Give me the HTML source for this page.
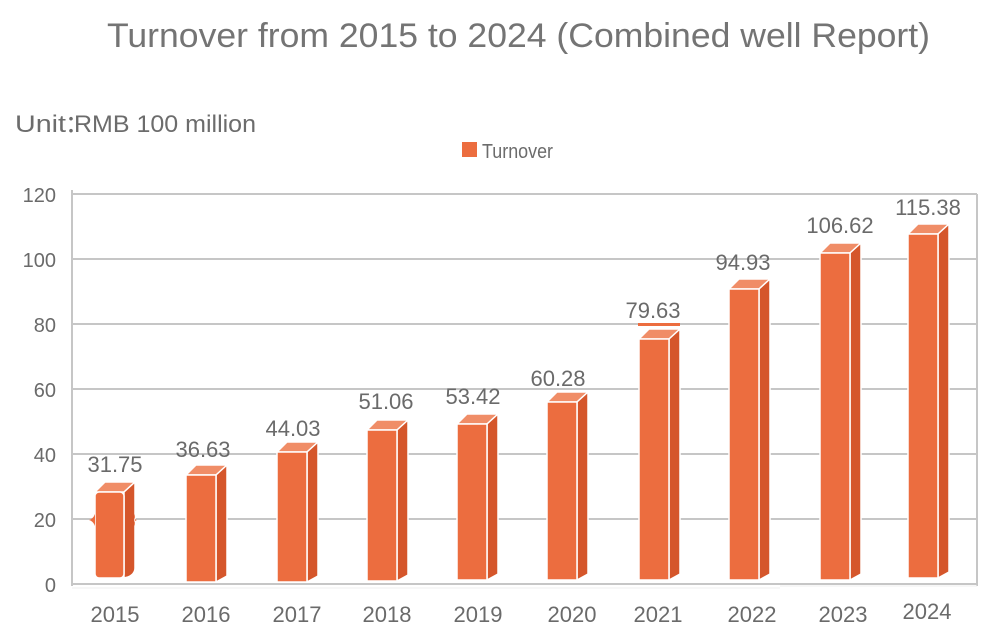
<!DOCTYPE html>
<html>
<head>
<meta charset="utf-8">
<style>
html,body{margin:0;padding:0;background:#fff;}
svg{display:block;}
text{font-family:"Liberation Sans",sans-serif;}
</style>
</head>
<body>
<svg width="1000" height="640" viewBox="0 0 1000 640" xmlns="http://www.w3.org/2000/svg">
<rect width="1000" height="640" fill="#ffffff"/>
<!-- Title -->
<text x="107" y="47" font-size="34" fill="#747474" textLength="823" lengthAdjust="spacingAndGlyphs">Turnover from 2015 to 2024 (Combined well Report)</text>
<!-- Unit -->
<text x="15" y="132" font-size="24" fill="#6c6c6c" textLength="51" lengthAdjust="spacingAndGlyphs">Unit</text>
<text x="65" y="132" font-size="24" fill="#6c6c6c" font-family="'Liberation Sans','Noto Sans CJK SC',sans-serif">：</text>
<text x="74" y="132" font-size="24" fill="#6c6c6c" textLength="182" lengthAdjust="spacingAndGlyphs">RMB 100 million</text>
<!-- Legend -->
<rect x="462" y="142" width="15" height="15" fill="#EC6D3F"/>
<text x="482" y="158" font-size="20" fill="#6c6c6c" textLength="71" lengthAdjust="spacingAndGlyphs">Turnover</text>

<!-- Grid -->
<g stroke="#c6c6c6" stroke-width="2" fill="none">
<line x1="72" y1="194" x2="977" y2="194"/>
<line x1="72" y1="259" x2="977" y2="259"/>
<line x1="72" y1="324" x2="977" y2="324"/>
<line x1="72" y1="389" x2="977" y2="389"/>
<line x1="72" y1="454" x2="977" y2="454"/>
<line x1="72" y1="519" x2="977" y2="519"/>
<line x1="72" y1="584" x2="977" y2="584"/>
<line x1="72" y1="190" x2="72" y2="586"/>
<line x1="977" y1="194" x2="977" y2="586"/>
</g>
<g stroke="#efefef" stroke-width="1">
<line x1="72" y1="588" x2="780" y2="588"/>
<line x1="780" y1="586" x2="977" y2="586"/>
</g>

<!-- Y labels -->
<g font-size="20" fill="#6a6a6a" text-anchor="end">
<text x="56" y="202">120</text>
<text x="56" y="267">100</text>
<text x="56" y="332">80</text>
<text x="56" y="397">60</text>
<text x="56" y="462">40</text>
<text x="56" y="527">20</text>
<text x="56" y="592">0</text>
</g>

<!-- Bars -->
<g stroke="#ffffff" stroke-width="1.5" stroke-linejoin="round">
<!-- 2015 (rounded) -->
<path d="M95,492 L105,482 L135,482 L124,492 Z" fill="#F08D67"/>
<path d="M124,492 L135,482 L135,568 Q135,574 128,577 L124,578 Z" fill="#D5562B"/>
<rect x="95" y="492" width="29" height="86" rx="4" fill="#EC6D3F"/>
<!-- 2016 -->
<path d="M186,475 L196,465 L227,465 L216,475 Z" fill="#F08D67"/>
<path d="M216,475 L227,465 L227,576 L216,582 Z" fill="#D5562B"/>
<rect x="186" y="475" width="30" height="107" fill="#EC6D3F"/>
<!-- 2017 -->
<path d="M277,452 L287,442 L318,442 L307,452 Z" fill="#F08D67"/>
<path d="M307,452 L318,442 L318,576 L307,582 Z" fill="#D5562B"/>
<rect x="277" y="452" width="30" height="130" fill="#EC6D3F"/>
<!-- 2018 -->
<path d="M367,430 L377,420 L408,420 L397,430 Z" fill="#F08D67"/>
<path d="M397,430 L408,420 L408,575 L397,581 Z" fill="#D5562B"/>
<rect x="367" y="430" width="30" height="151" fill="#EC6D3F"/>
<!-- 2019 -->
<path d="M457,424 L467,414 L498,414 L487,424 Z" fill="#F08D67"/>
<path d="M487,424 L498,414 L498,574 L487,580 Z" fill="#D5562B"/>
<rect x="457" y="424" width="30" height="156" fill="#EC6D3F"/>
<!-- 2020 -->
<path d="M547,402 L557,392 L588,392 L577,402 Z" fill="#F08D67"/>
<path d="M577,402 L588,392 L588,574 L577,580 Z" fill="#D5562B"/>
<rect x="547" y="402" width="30" height="178" fill="#EC6D3F"/>
<!-- 2021 -->
<path d="M639,339 L649,329 L680,329 L669,339 Z" fill="#F08D67"/>
<path d="M669,339 L680,329 L680,574 L669,580 Z" fill="#D5562B"/>
<rect x="639" y="339" width="30" height="241" fill="#EC6D3F"/>
<!-- 2022 -->
<path d="M729,289 L739,279 L770,279 L759,289 Z" fill="#F08D67"/>
<path d="M759,289 L770,279 L770,574 L759,580 Z" fill="#D5562B"/>
<rect x="729" y="289" width="30" height="291" fill="#EC6D3F"/>
<!-- 2023 -->
<path d="M820,253 L830,243 L861,243 L850,253 Z" fill="#F08D67"/>
<path d="M850,253 L861,243 L861,574 L850,580 Z" fill="#D5562B"/>
<rect x="820" y="253" width="30" height="327" fill="#EC6D3F"/>
<!-- 2024 -->
<path d="M908,234 L918,224 L949,224 L938,234 Z" fill="#F08D67"/>
<path d="M938,234 L949,224 L949,572 L938,578 Z" fill="#D5562B"/>
<rect x="908" y="234" width="30" height="344" fill="#EC6D3F"/>
</g>
<!-- small artifacts -->
<rect x="638" y="323" width="42" height="3" fill="#EC6D3F"/>
<path d="M89,520 Q93,519 95,514 L95,526 Q93,521 89,520 Z" fill="#EC6D3F"/>
<path d="M137,520 Q133,519 135,514 L135,526 Q133,521 137,520 Z" fill="#EC6D3F"/>

<!-- Value labels -->
<g font-size="22" fill="#6a6a6a" text-anchor="middle">
<text x="115" y="472">31.75</text>
<text x="203" y="457">36.63</text>
<text x="293" y="436">44.03</text>
<text x="386" y="409">51.06</text>
<text x="473" y="404">53.42</text>
<text x="558" y="386">60.28</text>
<text x="653" y="318">79.63</text>
<text x="743" y="270">94.93</text>
<text x="840" y="233">106.62</text>
<text x="928" y="215">115.38</text>
</g>

<!-- X labels -->
<g font-size="22" fill="#6a6a6a" text-anchor="middle">
<text x="115" y="622">2015</text>
<text x="206" y="622">2016</text>
<text x="297" y="622">2017</text>
<text x="387" y="622">2018</text>
<text x="478" y="622">2019</text>
<text x="572" y="622">2020</text>
<text x="658" y="622">2021</text>
<text x="752" y="622">2022</text>
<text x="843" y="622">2023</text>
<text x="927" y="619">2024</text>
</g>
</svg>
</body>
</html>
